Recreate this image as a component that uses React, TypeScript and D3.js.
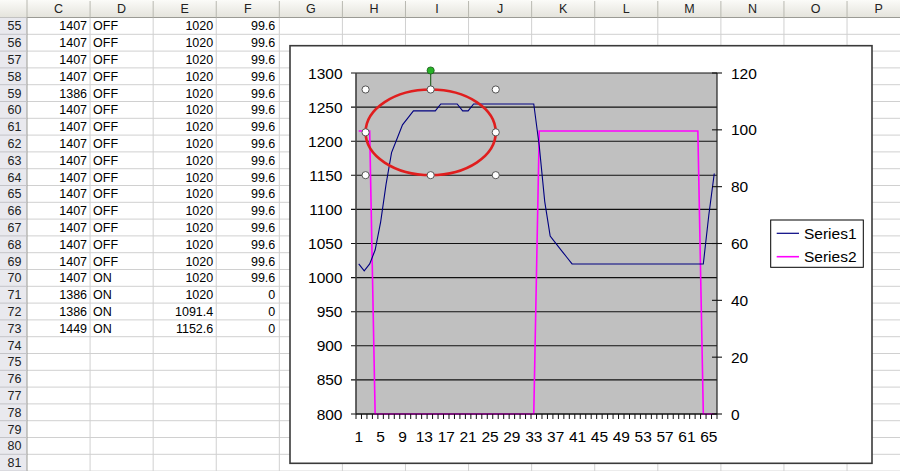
import React from "react";
import * as d3 from "d3";

// ---------- Chart data ----------
const categories = [
  1, 2, 3, 4, 5, 6, 7, 8, 9, 10, 11, 12, 13, 14, 15, 16, 17, 18, 19, 20, 21, 22,
  23, 24, 25, 26, 27, 28, 29, 30, 31, 32, 33, 34, 35, 36, 37, 38, 39, 40, 41, 42,
  43, 44, 45, 46, 47, 48, 49, 50, 51, 52, 53, 54, 55, 56, 57, 58, 59, 60, 61, 62,
  63, 64, 65, 66,
];

const series1 = [
  1020, 1009.8, 1020, 1040.4, 1081.2, 1137, 1183.2, 1203.6, 1224, 1234.2, 1244.4,
  1244.4, 1244.4, 1244.4, 1244.4, 1254.6, 1254.6, 1254.6, 1254.6, 1244.4, 1244.4,
  1254.6, 1254.6, 1254.6, 1254.6, 1254.6, 1254.6, 1254.6, 1254.6, 1254.6, 1254.6,
  1254.6, 1254.6, 1193.4, 1111.8, 1060.8, 1050.6, 1040.4, 1030.2, 1020, 1020, 1020,
  1020, 1020, 1020, 1020, 1020, 1020, 1020, 1020, 1020, 1020, 1020, 1020, 1020,
  1020, 1020, 1020, 1020, 1020, 1020, 1020, 1020, 1020, 1091.4, 1152.6,
];

const series2 = [
  99.6, 99.6, 99.6, 0, 0, 0, 0, 0, 0, 0, 0, 0, 0, 0, 0, 0, 0, 0, 0, 0, 0, 0, 0, 0,
  0, 0, 0, 0, 0, 0, 0, 0, 0, 99.6, 99.6, 99.6, 99.6, 99.6, 99.6, 99.6, 99.6, 99.6,
  99.6, 99.6, 99.6, 99.6, 99.6, 99.6, 99.6, 99.6, 99.6, 99.6, 99.6, 99.6, 99.6,
  99.6, 99.6, 99.6, 99.6, 99.6, 99.6, 99.6, 99.6, 0, 0, 0,
];

const leftTicks = [800, 850, 900, 950, 1000, 1050, 1100, 1150, 1200, 1250, 1300];
const rightTicks = [0, 20, 40, 60, 80, 100, 120];
const xTickLabels = [1, 5, 9, 13, 17, 21, 25, 29, 33, 37, 41, 45, 49, 53, 57, 61, 65];
const seriesNames = ["Series1", "Series2"];

// Ellipse annotation in data units (category, left-axis value)
const ellipseCenter = { cat: 14.15, value: 1213 };
const ellipseHalf = { cats: 11.9, value: 62.8 };

// ---------- Spreadsheet data ----------
const columnLetters = ["C", "D", "E", "F", "G", "H", "I", "J", "K", "L", "M", "N", "O", "P"];
const rowNumbers = [
  55, 56, 57, 58, 59, 60, 61, 62, 63, 64, 65, 66, 67, 68, 69, 70, 71, 72, 73, 74, 75,
  76, 77, 78, 79, 80, 81,
];
const colC = ["1407", "1407", "1407", "1407", "1386", "1407", "1407", "1407", "1407", "1407", "1407", "1407", "1407", "1407", "1407", "1407", "1386", "1386", "1449"];
const colD = ["OFF", "OFF", "OFF", "OFF", "OFF", "OFF", "OFF", "OFF", "OFF", "OFF", "OFF", "OFF", "OFF", "OFF", "OFF", "ON", "ON", "ON", "ON"];
const colE = ["1020", "1020", "1020", "1020", "1020", "1020", "1020", "1020", "1020", "1020", "1020", "1020", "1020", "1020", "1020", "1020", "1020", "1091.4", "1152.6"];
const colF = ["99.6", "99.6", "99.6", "99.6", "99.6", "99.6", "99.6", "99.6", "99.6", "99.6", "99.6", "99.6", "99.6", "99.6", "99.6", "99.6", "0", "0", "0"];

const W = 900;
const H = 471;
const SHEET_FONT = "'Liberation Sans', Arial, sans-serif";

export default function App() {
  // spreadsheet geometry
  const rowHeadW = 27;
  const colW = 63.08;
  const headH = 17.5;
  const rowH = 16.8;
  const colX = (i: number) => rowHeadW + i * colW;
  const rowY = (i: number) => headH + i * rowH;

  // chart geometry
  const chart = { x: 290, y: 45.7, w: 582, h: 417.6 };
  const plot = { l: 356, r: 717, t: 73, b: 414 };

  const x = d3
    .scaleBand<number>()
    .domain(categories)
    .range([plot.l, plot.r])
    .paddingInner(0)
    .paddingOuter(0);
  const bw = x.bandwidth();
  const cx = (c: number) => (x(c) as number) + bw / 2;
  const xCont = d3.scaleLinear().domain([0.5, categories.length + 0.5]).range([plot.l, plot.r]);
  const yL = d3.scaleLinear().domain([800, 1300]).range([plot.b, plot.t]);
  const yR = d3.scaleLinear().domain([0, 120]).range([plot.b, plot.t]);

  const line1 = d3
    .line<number>()
    .x((_, i) => cx(categories[i]))
    .y((d) => yL(d));
  const line2 = d3
    .line<number>()
    .x((_, i) => cx(categories[i]))
    .y((d) => yR(d));

  const boundaries = d3.range(categories.length + 1).map((i) => plot.l + i * bw);

  // ellipse
  const ex = xCont(ellipseCenter.cat);
  const ey = yL(ellipseCenter.value);
  const erx = xCont(ellipseCenter.cat + ellipseHalf.cats) - ex;
  const ery = ey - yL(ellipseCenter.value + ellipseHalf.value);
  const handles: [number, number][] = [
    [ex - erx, ey - ery],
    [ex, ey - ery],
    [ex + erx, ey - ery],
    [ex - erx, ey],
    [ex + erx, ey],
    [ex - erx, ey + ery],
    [ex, ey + ery],
    [ex + erx, ey + ery],
  ];

  const chartFont = 15.5;
  const cellTextY = (i: number) => rowY(i) + rowH / 2 + 4.5;

  return (
    <div style={{ position: "fixed", left: 0, top: 0, width: W, height: H }}>
      <svg width={W} height={H} viewBox={`0 0 ${W} ${H}`} style={{ display: "block" }}>
        <defs>
          <linearGradient id="hdr" x1="0" y1="0" x2="0" y2="1">
            <stop offset="0" stopColor="#fbfbf8" />
            <stop offset="1" stopColor="#e4e3dc" />
          </linearGradient>
        </defs>
        <rect x={0} y={0} width={W} height={H} fill="#ffffff" />

        {/* cell gridlines */}
        {rowNumbers.map((_, i) => (
          <line key={"hr" + i} x1={rowHeadW} x2={W} y1={rowY(i + 1)} y2={rowY(i + 1)} stroke="#d0d0d0" strokeWidth={1} />
        ))}
        {columnLetters.map((_, i) => (
          <line key={"vc" + i} x1={colX(i + 1)} x2={colX(i + 1)} y1={headH} y2={H} stroke="#d0d0d0" strokeWidth={1} />
        ))}

        {/* column header */}
        <rect x={0} y={0} width={W} height={headH} fill="url(#hdr)" />
        <line x1={0} x2={W} y1={headH} y2={headH} stroke="#9a9a94" strokeWidth={1} />
        {columnLetters.map((c, i) => (
          <g key={"ch" + c}>
            <line x1={colX(i + 1)} x2={colX(i + 1)} y1={1} y2={headH} stroke="#b8b8b0" strokeWidth={1} />
            <text
              x={colX(i) + colW / 2}
              y={headH / 2 + 4.5}
              textAnchor="middle"
              fontFamily={SHEET_FONT}
              fontSize={12.5}
              fill="#222"
            >
              {c}
            </text>
          </g>
        ))}
        <line x1={rowHeadW} x2={rowHeadW} y1={0} y2={headH} stroke="#b8b8b0" strokeWidth={1} />

        {/* row header */}
        <rect x={0} y={headH} width={rowHeadW} height={H - headH} fill="#e9e9ee" />
        <line x1={rowHeadW} x2={rowHeadW} y1={headH} y2={H} stroke="#9a9a94" strokeWidth={1} />
        {rowNumbers.map((r, i) => (
          <g key={"rn" + r}>
            <line x1={0} x2={rowHeadW} y1={rowY(i + 1)} y2={rowY(i + 1)} stroke="#c4c4c8" strokeWidth={1} />
            <text
              x={rowHeadW / 2 + 1}
              y={cellTextY(i)}
              textAnchor="middle"
              fontFamily={SHEET_FONT}
              fontSize={12.5}
              fill="#222"
            >
              {r}
            </text>
          </g>
        ))}

        {/* cell values */}
        {colC.map((v, i) => (
          <text key={"c" + i} x={colX(1) - 3} y={cellTextY(i)} textAnchor="end" fontFamily={SHEET_FONT} fontSize={12.5} fill="#000">
            {v}
          </text>
        ))}
        {colD.map((v, i) => (
          <text key={"d" + i} x={colX(1) + 3} y={cellTextY(i)} textAnchor="start" fontFamily={SHEET_FONT} fontSize={12.5} fill="#000">
            {v}
          </text>
        ))}
        {colE.map((v, i) => (
          <text key={"e" + i} x={colX(3) - 3} y={cellTextY(i)} textAnchor="end" fontFamily={SHEET_FONT} fontSize={12.5} fill="#000">
            {v}
          </text>
        ))}
        {colF.map((v, i) => (
          <text key={"f" + i} x={colX(4) - 4} y={cellTextY(i)} textAnchor="end" fontFamily={SHEET_FONT} fontSize={12.5} fill="#000">
            {v}
          </text>
        ))}

        {/* chart area */}
        <rect x={chart.x} y={chart.y} width={chart.w} height={chart.h} fill="#ffffff" stroke="#3a3a3a" strokeWidth={1.6} />

        {/* plot area */}
        <rect x={plot.l} y={plot.t} width={plot.r - plot.l} height={plot.b - plot.t} fill="#c0c0c0" />

        {/* gridlines + left ticks */}
        {leftTicks.map((t) => (
          <line key={"g" + t} x1={plot.l - 5} x2={plot.r} y1={yL(t)} y2={yL(t)} stroke="#111" strokeWidth={1.1} />
        ))}
        {leftTicks.map((t) => (
          <text
            key={"lt" + t}
            x={342.5}
            y={yL(t) + 5.5}
            textAnchor="end"
            fontFamily={SHEET_FONT}
            fontSize={chartFont}
            fill="#000"
          >
            {t}
          </text>
        ))}

        {/* series */}
        <path d={line2(series2) || ""} fill="none" stroke="#ff00ff" strokeWidth={1.6} />
        <path d={line1(series1) || ""} fill="none" stroke="#000080" strokeWidth={1.1} />

        {/* axes */}
        <line x1={plot.l} x2={plot.l} y1={plot.t} y2={plot.b} stroke="#404040" strokeWidth={1.6} />
        <line x1={plot.r} x2={plot.r} y1={plot.t} y2={plot.b} stroke="#202020" strokeWidth={1.2} />
        <line x1={plot.l} x2={plot.r} y1={plot.b} y2={plot.b} stroke="#111" strokeWidth={1.2} />
        {boundaries.map((bx, i) => (
          <line key={"xt" + i} x1={bx} x2={bx} y1={plot.b} y2={plot.b + 5} stroke="#111" strokeWidth={1} />
        ))}
        {xTickLabels.map((c) => (
          <text
            key={"xl" + c}
            x={cx(c)}
            y={442}
            textAnchor="middle"
            fontFamily={SHEET_FONT}
            fontSize={chartFont}
            fill="#000"
          >
            {c}
          </text>
        ))}
        {rightTicks.map((t) => (
          <g key={"rt" + t}>
            <line x1={plot.r - 5} x2={plot.r + 5} y1={yR(t)} y2={yR(t)} stroke="#111" strokeWidth={1.1} />
            <text
              x={731}
              y={yR(t) + 5.5}
              textAnchor="start"
              fontFamily={SHEET_FONT}
              fontSize={chartFont}
              fill="#000"
            >
              {t}
            </text>
          </g>
        ))}

        {/* legend */}
        <rect x={770.7} y={220} width={92.6} height={47.3} fill="#fff" stroke="#000" strokeWidth={1} />
        {seriesNames.map((n, i) => {
          const ly = 233.3 + i * 23.4;
          return (
            <g key={"lg" + n}>
              <line x1={776.7} x2={799} y1={ly} y2={ly} stroke={i === 0 ? "#000080" : "#ff00ff"} strokeWidth={i === 0 ? 1.2 : 1.6} />
              <text x={804} y={ly + 5.5} fontFamily={SHEET_FONT} fontSize={chartFont} fill="#000">
                {n}
              </text>
            </g>
          );
        })}

        {/* ellipse annotation with selection handles */}
        <ellipse cx={ex} cy={ey} rx={erx} ry={ery} fill="none" stroke="#e01e1e" strokeWidth={2.6} />
        <line x1={ex} x2={ex} y1={ey - ery} y2={ey - ery - 19} stroke="#2a6a2a" strokeWidth={1.2} />
        <circle cx={ex} cy={ey - ery - 19} r={3.6} fill="#27b427" stroke="#1a5a1a" strokeWidth={0.8} />
        {handles.map(([hx, hy], i) => (
          <circle key={"h" + i} cx={hx} cy={hy} r={3.6} fill="#fff" stroke="#555" strokeWidth={1} />
        ))}
      </svg>
    </div>
  );
}
